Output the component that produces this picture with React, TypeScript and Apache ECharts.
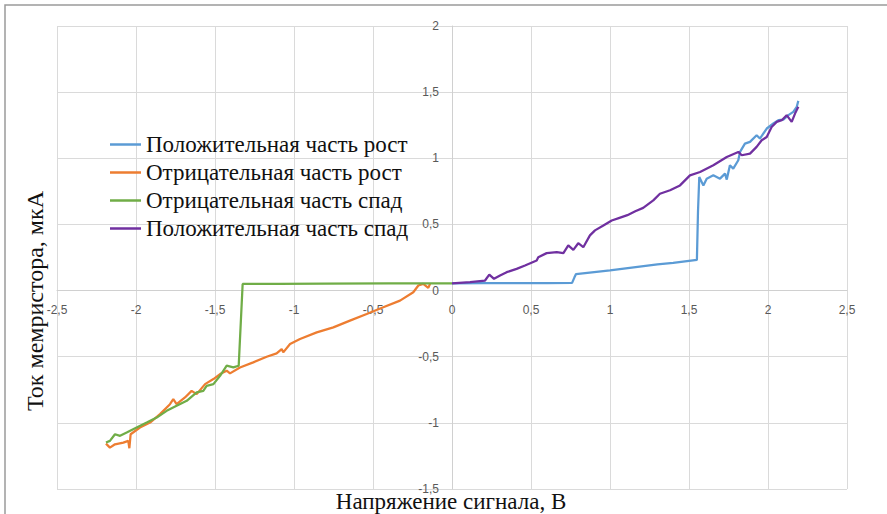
import React, { useEffect, useRef } from "react";
import * as echarts from "echarts";

const seriesNames = [
  "Положительная часть рост",
  "Отрицательная часть рост",
  "Отрицательная часть спад",
  "Положительная часть спад",
];
const seriesColors = ["#5B9BD5", "#ED7D31", "#70AD47", "#7030A0"];

const xTitle = "Напряжение сигнала, В";
const yTitle = "Ток мемристора, мкА";

const posRise: [number, number][] = [
  [0, 0.055], [0.2, 0.056], [0.4, 0.057], [0.6, 0.057], [0.76, 0.058],
  [0.775, 0.1], [0.785, 0.125], [0.9, 0.14], [1.0, 0.153], [1.1, 0.168],
  [1.2, 0.183], [1.3, 0.198], [1.4, 0.21], [1.5, 0.225], [1.55, 0.232],
  [1.557, 0.6], [1.565, 0.858], [1.591, 0.795], [1.612, 0.846], [1.654, 0.871],
  [1.696, 0.846], [1.728, 0.884], [1.739, 0.839], [1.759, 0.947], [1.78, 0.922],
  [1.812, 0.985], [1.823, 1.048], [1.854, 1.111], [1.886, 1.124], [1.928, 1.174],
  [1.949, 1.149], [1.992, 1.225], [2.034, 1.263], [2.066, 1.288], [2.097, 1.293],
  [2.129, 1.326], [2.16, 1.351], [2.182, 1.389], [2.192, 1.434],
];

const negRise: [number, number][] = [
  [-2.19, -1.157], [-2.165, -1.187], [-2.133, -1.162], [-2.08, -1.149],
  [-2.049, -1.136], [-2.042, -1.192], [-2.034, -1.086], [-1.975, -1.035],
  [-1.911, -0.998], [-1.848, -0.934], [-1.785, -0.859], [-1.764, -0.821],
  [-1.743, -0.859], [-1.69, -0.808], [-1.648, -0.758], [-1.616, -0.783],
  [-1.563, -0.707], [-1.51, -0.669], [-1.468, -0.631], [-1.426, -0.606],
  [-1.405, -0.626], [-1.342, -0.581], [-1.258, -0.543], [-1.173, -0.5],
  [-1.11, -0.475], [-1.078, -0.442], [-1.068, -0.467], [-1.025, -0.404],
  [-0.962, -0.366], [-0.856, -0.316], [-0.751, -0.278], [-0.646, -0.227],
  [-0.54, -0.177], [-0.435, -0.126], [-0.329, -0.076], [-0.245, -0.013],
  [-0.213, 0.038], [-0.182, 0.051], [-0.15, 0.02], [-0.139, 0.051],
];

const negFall: [number, number][] = [
  [0, 0.055], [-0.4, 0.054], [-0.8, 0.052], [-1.1, 0.051], [-1.325, 0.05],
  [-1.35, -0.568], [-1.384, -0.581], [-1.426, -0.568], [-1.468, -0.644],
  [-1.51, -0.707], [-1.553, -0.72], [-1.574, -0.758], [-1.616, -0.77],
  [-1.679, -0.833], [-1.743, -0.871], [-1.806, -0.909], [-1.869, -0.96],
  [-1.932, -0.998], [-1.996, -1.035], [-2.059, -1.073], [-2.101, -1.098],
  [-2.133, -1.086], [-2.165, -1.136], [-2.19, -1.149],
];

const posFall: [number, number][] = [
  [0, 0.055], [0.114, 0.063], [0.209, 0.076], [0.236, 0.121], [0.266, 0.089],
  [0.304, 0.114], [0.346, 0.139], [0.409, 0.164], [0.462, 0.189], [0.536, 0.227],
  [0.546, 0.252], [0.599, 0.283], [0.663, 0.29], [0.705, 0.283], [0.736, 0.341],
  [0.768, 0.308], [0.799, 0.358], [0.831, 0.328], [0.873, 0.417], [0.905, 0.455],
  [0.958, 0.492], [1.011, 0.53], [1.06, 0.55], [1.11, 0.57], [1.16, 0.6],
  [1.21, 0.625], [1.274, 0.682], [1.316, 0.732], [1.38, 0.758], [1.443, 0.795],
  [1.506, 0.871], [1.57, 0.896], [1.654, 0.947], [1.739, 1.01], [1.812, 1.048],
  [1.834, 1.023], [1.886, 1.035], [1.928, 1.086], [1.96, 1.136], [1.992, 1.161],
  [2.023, 1.237], [2.055, 1.275], [2.087, 1.288], [2.118, 1.326], [2.15, 1.275],
  [2.171, 1.338], [2.192, 1.389],
];

const allData = [posRise, negRise, negFall, posFall];

const fmt = (v: number) => String(v).replace(".", ",");

const W = 887;
const H = 514;
const GRID = { left: 57, right: 40, top: 26, bottom: 25 };
const SERIF = "'Liberation Serif', 'Times New Roman', serif";

export default function App() {
  const ref = useRef<HTMLDivElement>(null);
  useEffect(() => {
    if (!ref.current) return;
    const chart = echarts.init(ref.current, undefined, { renderer: "svg" });
    const plotW = W - GRID.left - GRID.right;
    const plotH = H - GRID.top - GRID.bottom;
    const xMin = -2.5, xMax = 2.5, yMin = -1.5, yMax = 2;
    // shift the axes so they cross at zero (labels follow the lines)
    const xAxisOffset = -((0 - yMin) / (yMax - yMin)) * plotH;
    const yAxisOffset = -((0 - xMin) / (xMax - xMin)) * plotW;
    const axisLabel = {
      color: "#595959",
      fontSize: 12,
      fontFamily: "'Liberation Sans', Arial, sans-serif",
      formatter: (v: number) => fmt(v),
    };
    chart.setOption({
      animation: false,
      backgroundColor: "#ffffff",
      grid: { ...GRID, containLabel: false },
      legend: {
        orient: "vertical",
        left: 105,
        top: 126,
        icon: "rect",
        itemWidth: 31,
        itemHeight: 2.5,
        itemGap: 1,
        textStyle: {
          fontFamily: SERIF,
          fontSize: 23,
          lineHeight: 27,
          color: "#111",
        },
        data: seriesNames,
      },
      xAxis: {
        type: "value",
        position: "bottom",
        offset: xAxisOffset,
        min: xMin,
        max: xMax,
        interval: 0.5,
        axisLine: { onZero: false, lineStyle: { color: "#d0d0d0", width: 1 } },
        axisTick: { show: false },
        splitLine: { lineStyle: { color: "#dadada", width: 1 } },
        axisLabel: { ...axisLabel, margin: 13 },
      },
      yAxis: {
        type: "value",
        position: "left",
        offset: yAxisOffset,
        min: yMin,
        max: yMax,
        interval: 0.5,
        axisLine: { onZero: false, lineStyle: { color: "#d0d0d0", width: 1 } },
        axisTick: { show: false },
        splitLine: { lineStyle: { color: "#dadada", width: 1 } },
        axisLabel: { ...axisLabel, margin: 13 },
      },
      graphic: [
        {
          type: "rect",
          shape: { x: 5, y: 5, width: 1000, height: 1000 },
          style: { fill: "none", stroke: "#9a9a9a", lineWidth: 1.5 },
          silent: true,
        },
        {
          type: "text",
          x: 451,
          y: 501,
          style: {
            text: xTitle,
            fontFamily: SERIF,
            fontSize: 23,
            fill: "#111",
            align: "center",
            verticalAlign: "middle",
          },
        },
        {
          type: "text",
          x: 35,
          y: 301,
          rotation: Math.PI / 2,
          style: {
            text: yTitle,
            fontFamily: SERIF,
            fontSize: 24,
            fill: "#111",
            align: "center",
            verticalAlign: "middle",
          },
        },
      ],
      series: allData.map((d, i) => ({
        name: seriesNames[i],
        type: "line",
        data: d,
        symbol: "none",
        color: seriesColors[i],
        lineStyle: { color: seriesColors[i], width: 2.25 },
      })),
    });
    return () => chart.dispose();
  }, []);
  return (
    <div
      ref={ref}
      style={{ position: "fixed", left: 0, top: 0, width: W, height: H }}
    />
  );
}
